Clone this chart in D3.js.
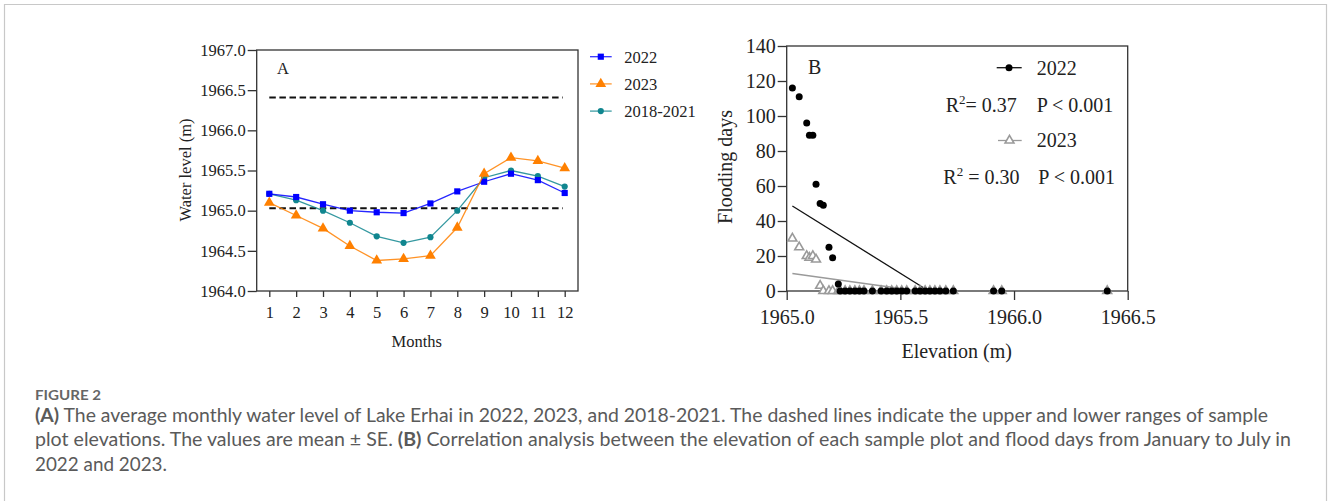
<!DOCTYPE html>
<html>
<head>
<meta charset="utf-8">
<script src="https://cdn.jsdelivr.net/npm/d3@7"></script>
<style>
  body { margin: 0; background: #fff; }
  svg { display: block; }
</style>
</head>
<body>
<svg id="fig" width="1328" height="501"></svg>
<script>
// ---- panel A data ----
const months = [1, 2, 3, 4, 5, 6, 7, 8, 9, 10, 11, 12];
const level2022 = [1965.21, 1965.17, 1965.08, 1965.00, 1964.98, 1964.97, 1965.09, 1965.24, 1965.36, 1965.46, 1965.38, 1965.22];
const level2023 = [1965.10, 1964.94, 1964.78, 1964.56, 1964.38, 1964.40, 1964.44, 1964.79, 1965.46, 1965.66, 1965.62, 1965.53];
const level1821 = [1965.21, 1965.13, 1965.00, 1964.85, 1964.68, 1964.60, 1964.67, 1965.00, 1965.41, 1965.50, 1965.43, 1965.30];
const plotRange = [1965.03, 1966.41]; // dashed lines
const yTicksA = [1964.0, 1964.5, 1965.0, 1965.5, 1966.0, 1966.5, 1967.0];

// ---- panel B data ----
const elevB = [1965.025, 1965.055, 1965.088, 1965.100, 1965.115, 1965.129, 1965.147, 1965.161, 1965.186, 1965.202,
  1965.227, 1965.235, 1965.257, 1965.278, 1965.300, 1965.320, 1965.340, 1965.377, 1965.415, 1965.440,
  1965.462, 1965.484, 1965.506, 1965.528, 1965.565, 1965.587, 1965.609, 1965.630, 1965.652, 1965.674,
  1965.700, 1965.733, 1965.910, 1965.946, 1966.410];
const days2022 = [116, 111, 96, 89, 89, 61, 50, 49, 25, 19, 4, 0, 0, 0, 0, 0, 0, 0, 0, 0, 0, 0, 0, 0, 0, 0, 0, 0, 0, 0, 0, 0, 0, 0, 0];
const days2023 = [30, 25, 20, 19, 20, 18, 3, 0, 0, 0, 0, 0, 0, 0, 0, 0, 0, 0, 0, 0, 0, 0, 0, 0, 0, 0, 0, 0, 0, 0, 0, 0, 0, 0, 0];
const fit2022 = [[1965.025, 48.6], [1965.60, 2]];
const fit2023 = [[1965.025, 10], [1965.58, 0]];
const xTicksB = [1965.0, 1965.5, 1966.0, 1966.5];
const yTicksB = [0, 20, 40, 60, 80, 100, 120, 140];

const svg = d3.select("#fig");
const serif = "'Liberation Serif', 'Times New Roman', serif";
const blue = "#0000ff", orange = "#ff8000", teal = "#10868f";

// outer border of the figure box
svg.append("path")
  .attr("d", "M4.5,501 V4.5 H1326.5 V501")
  .attr("fill", "none").attr("stroke", "#c8c8c8").attr("stroke-width", 1.2);

// ================= panel A =================
let gA = svg.append("g");
let xA = d3.scaleLinear().domain([1, 12]).range([269.3, 564.7]);
let yA = d3.scaleLinear().domain([1964, 1967]).range([291, 50]);
let frameA = { l: 256.7, r: 578, t: 50, b: 291 };

gA.append("rect")
  .attr("x", frameA.l).attr("y", frameA.t)
  .attr("width", frameA.r - frameA.l).attr("height", frameA.b - frameA.t)
  .attr("fill", "none").attr("stroke", "#333").attr("stroke-width", 1.3);

// y axis
let yAxisA = gA.append("g").attr("transform", `translate(${frameA.l},0)`)
  .call(d3.axisLeft(yA).tickValues(yTicksA).tickFormat(d3.format(".1f")).tickSize(9).tickPadding(2));
// x axis
let xAxisA = gA.append("g").attr("transform", `translate(0,${frameA.b})`)
  .call(d3.axisBottom(xA).tickValues(months).tickFormat(d3.format("d")).tickSize(6).tickPadding(9));
[yAxisA, xAxisA].forEach(ax => {
  ax.select(".domain").remove();
  ax.selectAll("line").attr("stroke", "#333").attr("stroke-width", 1.3);
  ax.selectAll("text").attr("font-family", serif).attr("font-size", 16.5).attr("fill", "#222");
});

// dashed range lines
gA.selectAll("line.range")
  .data(plotRange)
  .enter().append("line")
  .attr("x1", xA(1)).attr("x2", xA(11.93))
  .attr("y1", d => yA(d)).attr("y2", d => yA(d))
  .attr("stroke", "#111").attr("stroke-width", 2).attr("stroke-dasharray", "6.5,3.6");

let seriesA = [
  { name: "2022", vals: level2022, color: blue, sym: d3.symbolSquare, size: 38 },
  { name: "2023", vals: level2023, color: orange, sym: d3.symbolTriangle, size: 50 },
  { name: "2018-2021", vals: level1821, color: teal, sym: d3.symbolCircle, size: 30 }
];
let lineA = d3.line().x((d, i) => xA(months[i])).y(d => yA(d));

// draw in order: teal, blue, orange on top?
[seriesA[2], seriesA[0], seriesA[1]].forEach(s => {
  gA.append("path").datum(s.vals)
    .attr("d", lineA).attr("fill", "none")
    .attr("stroke", s.color).attr("stroke-width", 1.3).attr("stroke-opacity", 0.85);
  gA.selectAll(null).data(s.vals).enter().append("path")
    .attr("d", d3.symbol().type(s.sym).size(s.size))
    .attr("transform", (d, i) => `translate(${xA(months[i])},${yA(d)})`)
    .attr("fill", s.color);
});

// legend A
let legA = gA.append("g");
seriesA.forEach((s, i) => {
  let y = 56.7 + i * 27.2;
  legA.append("line").attr("x1", 590).attr("x2", 611.7).attr("y1", y).attr("y2", y)
    .attr("stroke", s.color).attr("stroke-width", 1.3).attr("stroke-opacity", 0.8);
  legA.append("path").attr("d", d3.symbol().type(s.sym).size(s.size))
    .attr("transform", `translate(600.8,${y})`).attr("fill", s.color);
  legA.append("text").attr("x", 624.3).attr("y", y + 6)
    .attr("font-family", serif).attr("font-size", 16.5).attr("fill", "#222").text(s.name);
});

gA.append("text").attr("x", 277).attr("y", 74)
  .attr("font-family", serif).attr("font-size", 16.5).attr("fill", "#222").text("A");
gA.append("text").attr("x", 416.7).attr("y", 347).attr("text-anchor", "middle")
  .attr("font-family", serif).attr("font-size", 16.5).attr("fill", "#222").text("Months");
gA.append("text").attr("transform", "translate(190.5,170) rotate(-90)").attr("text-anchor", "middle")
  .attr("font-family", serif).attr("font-size", 16.5).attr("fill", "#222").text("Water level (m)");

// ================= panel B =================
let gB = svg.append("g");
let xB = d3.scaleLinear().domain([1965.0, 1966.5]).range([786.7, 1127.7]);
let yB = d3.scaleLinear().domain([0, 140]).range([291, 46]);

gB.append("rect")
  .attr("x", xB(1965.0)).attr("y", yB(140))
  .attr("width", xB(1966.5) - xB(1965.0)).attr("height", yB(0) - yB(140))
  .attr("fill", "none").attr("stroke", "#333").attr("stroke-width", 1.3);

let yAxisB = gB.append("g").attr("transform", `translate(${xB(1965.0)},0)`)
  .call(d3.axisLeft(yB).tickValues(yTicksB).tickSize(9).tickPadding(2));
let xAxisB = gB.append("g").attr("transform", `translate(0,${yB(0)})`)
  .call(d3.axisBottom(xB).tickValues(xTicksB).tickFormat(d3.format(".1f")).tickSize(9).tickPadding(10));
[yAxisB, xAxisB].forEach(ax => {
  ax.select(".domain").remove();
  ax.selectAll("line").attr("stroke", "#333").attr("stroke-width", 1.3);
  ax.selectAll("text").attr("font-family", serif).attr("font-size", 20).attr("fill", "#222");
});

let lineB = d3.line().x(d => xB(d[0])).y(d => yB(d[1]));
gB.append("path").datum(fit2023).attr("d", lineB)
  .attr("fill", "none").attr("stroke", "#9a9a9a").attr("stroke-width", 1.3);
gB.append("path").datum(fit2022).attr("d", lineB)
  .attr("fill", "none").attr("stroke", "#111").attr("stroke-width", 1.3);

let triB = d3.symbol().type(d3.symbolTriangle).size(34);
gB.selectAll("path.t23").data(days2023).enter().append("path")
  .attr("class", "t23")
  .attr("d", triB)
  .attr("transform", (d, i) => `translate(${xB(elevB[i])},${yB(d)})`)
  .attr("fill", "#fff").attr("stroke", "#9a9a9a").attr("stroke-width", 1.6);
gB.selectAll("circle.d22").data(days2022).enter().append("circle")
  .attr("class", "d22")
  .attr("cx", (d, i) => xB(elevB[i])).attr("cy", d => yB(d))
  .attr("r", 3.5).attr("fill", "#000");

// legend B
gB.append("line").attr("x1", 996.7).attr("x2", 1021.7).attr("y1", 67.7).attr("y2", 67.7)
  .attr("stroke", "#111").attr("stroke-width", 1.3);
gB.append("circle").attr("cx", 1009).attr("cy", 67.7).attr("r", 3.5).attr("fill", "#000");
gB.append("line").attr("x1", 998).attr("x2", 1021.7).attr("y1", 140.5).attr("y2", 140.5)
  .attr("stroke", "#9a9a9a").attr("stroke-width", 1.3);
gB.append("path").attr("d", triB).attr("transform", "translate(1009.5,140.5)")
  .attr("fill", "#fff").attr("stroke", "#9a9a9a").attr("stroke-width", 1.6);

function txtB(x, y, s) {
  return gB.append("text").attr("x", x).attr("y", y)
    .attr("font-family", serif).attr("font-size", 20).attr("fill", "#222").text(s);
}
txtB(1036.7, 75, "2022");
txtB(1036.7, 147.3, "2023");
txtB(808, 74, "B");
txtB(1036.7, 111.7, "P < 0.001");
txtB(1038.3, 184, "P < 0.001");

function rsq(x, y, rest) {
  let t = gB.append("text").attr("x", x).attr("y", y)
    .attr("font-family", serif).attr("font-size", 20).attr("fill", "#222");
  t.append("tspan").text("R");
  t.append("tspan").attr("dy", -8).attr("font-size", 13).text("2");
  t.append("tspan").attr("dy", 8).text(rest);
}
rsq(945.7, 111.7, "= 0.37");
rsq(943.3, 184, " = 0.30");

gB.append("text").attr("x", 956.7).attr("y", 358).attr("text-anchor", "middle")
  .attr("font-family", serif).attr("font-size", 20).attr("fill", "#222").text("Elevation (m)");
gB.append("text").attr("transform", "translate(732,167) rotate(-90)").attr("text-anchor", "middle")
  .attr("font-family", serif).attr("font-size", 20).attr("fill", "#222").text("Flooding days");

// ================= caption =================
const sans = "Lato, 'Open Sans', sans-serif";
svg.append("text").attr("x", 35).attr("y", 400)
  .attr("font-family", sans).attr("font-size", 13.5).attr("font-weight", 700)
  .attr("fill", "#666").attr("textLength", 66).attr("lengthAdjust", "spacingAndGlyphs").text("FIGURE 2");

let cap1 = svg.append("text").attr("x", 35).attr("y", 422)
  .attr("font-family", sans).attr("font-size", 18.5).attr("fill", "#5a5a5a")
  .attr("textLength", 1233).attr("lengthAdjust", "spacingAndGlyphs");
cap1.append("tspan").attr("font-weight", 700).text("(A)");
cap1.append("tspan").text(" The average monthly water level of Lake Erhai in 2022, 2023, and 2018-2021. The dashed lines indicate the upper and lower ranges of sample");

let cap2 = svg.append("text").attr("x", 35).attr("y", 446)
  .attr("font-family", sans).attr("font-size", 18.5).attr("fill", "#5a5a5a")
  .attr("textLength", 1256).attr("lengthAdjust", "spacingAndGlyphs");
cap2.append("tspan").text("plot elevations. The values are mean \u00b1 SE. ");
cap2.append("tspan").attr("font-weight", 700).text("(B)");
cap2.append("tspan").text(" Correlation analysis between the elevation of each sample plot and flood days from January to July in");

svg.append("text").attr("x", 35).attr("y", 471)
  .attr("font-family", sans).attr("font-size", 18.5).attr("fill", "#5a5a5a")
  .attr("textLength", 132).attr("lengthAdjust", "spacingAndGlyphs").text("2022 and 2023.");
</script>
</body>
</html>
